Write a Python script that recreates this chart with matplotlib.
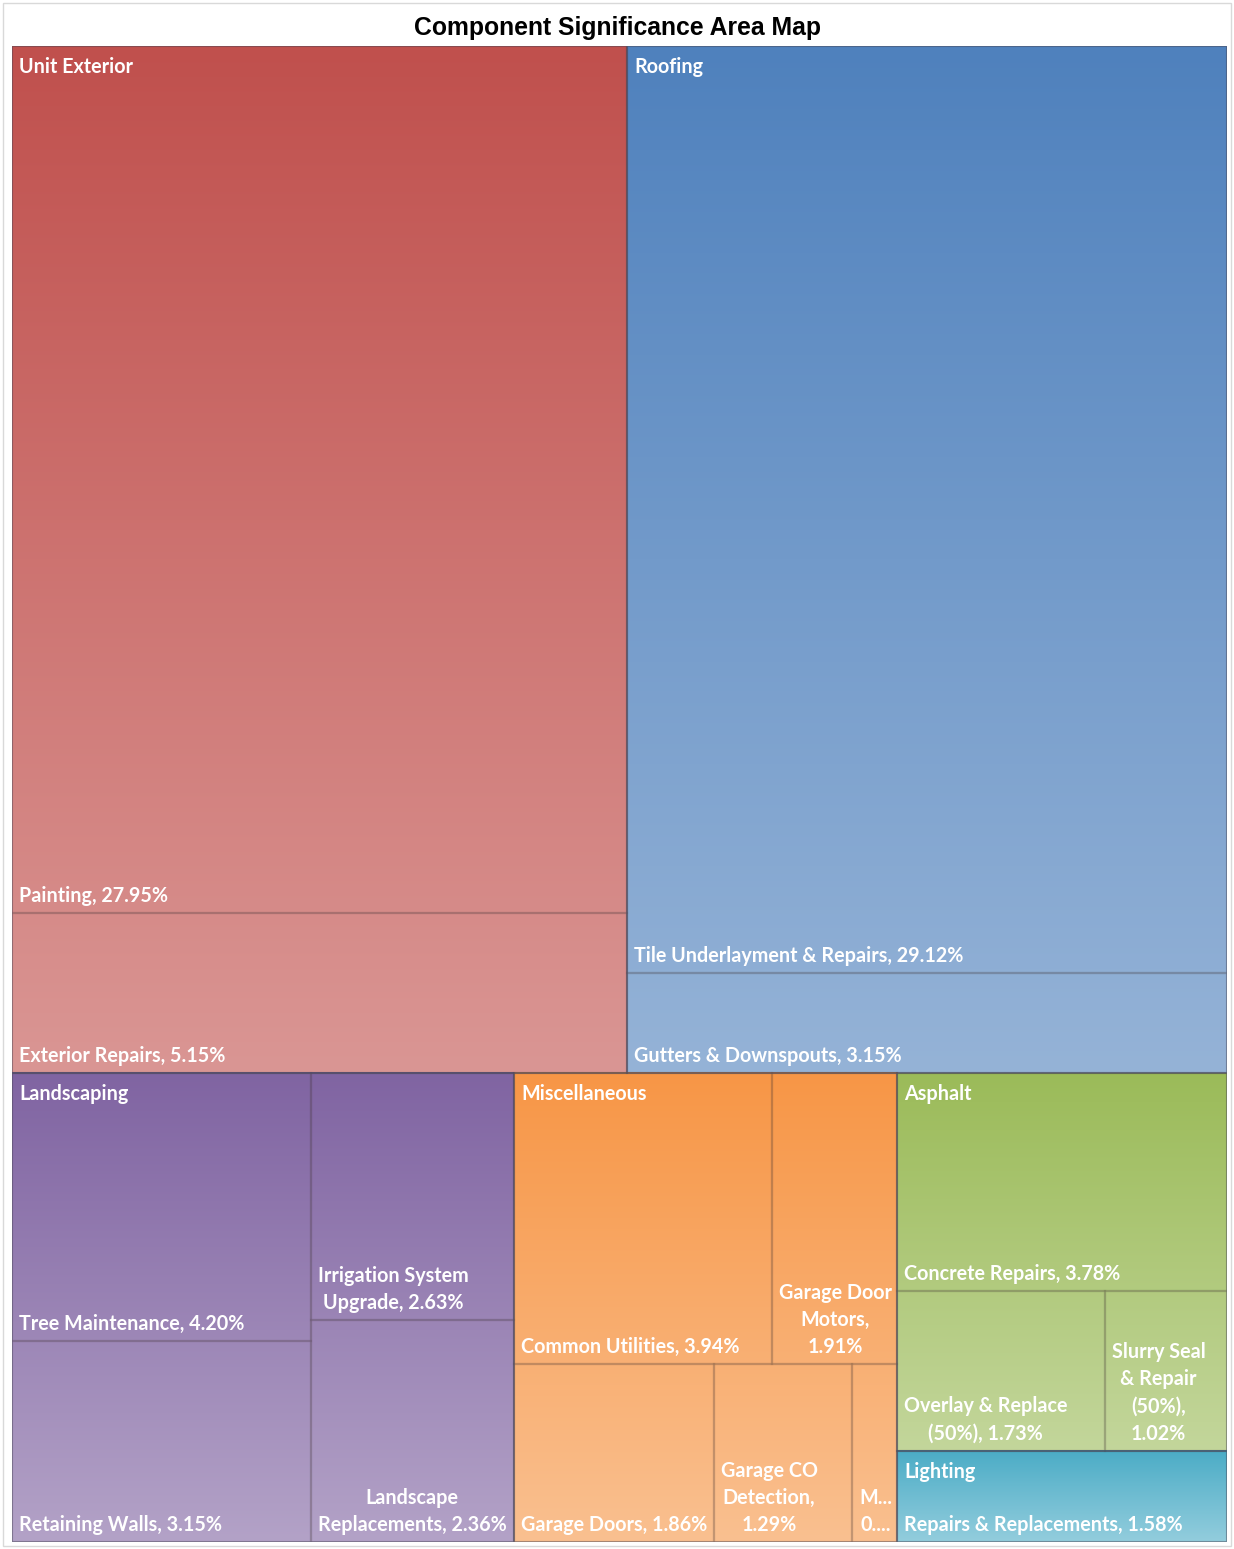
import matplotlib
matplotlib.use("Agg")
import matplotlib.pyplot as plt
import numpy as np
from matplotlib.patches import Rectangle
from matplotlib.colors import to_rgb
from matplotlib.font_manager import FontProperties

# ---------------- data ----------------
title = "Component Significance Area Map"
group_names = ["Unit Exterior", "Roofing", "Landscaping", "Miscellaneous", "Asphalt", "Lighting"]

unit_exterior_items = ["Painting", "Exterior Repairs"]
unit_exterior_values = [27.95, 5.15]
roofing_items = ["Tile Underlayment & Repairs", "Gutters & Downspouts"]
roofing_values = [29.12, 3.15]
landscaping_items = ["Tree Maintenance", "Retaining Walls", "Irrigation System Upgrade", "Landscape Replacements"]
landscaping_values = [4.20, 3.15, 2.63, 2.36]
misc_items = ["Common Utilities", "Garage Door Motors", "Garage Doors", "Garage CO Detection", "Mailboxes"]
misc_values = [3.94, 1.91, 1.86, 1.29, 0.42]
asphalt_items = ["Concrete Repairs", "Overlay & Replace (50%)", "Slurry Seal & Repair (50%)"]
asphalt_values = [3.78, 1.73, 1.02]
lighting_items = ["Repairs & Replacements"]
lighting_values = [1.58]

group_top_colors = ["#C0504D", "#4F81BD", "#8064A2", "#F79646", "#9BBB59", "#4BACC6"]
group_bottom_colors = ["#DA9694", "#95B3D7", "#B3A2C7", "#FAC090", "#C3D69B", "#93CDDD"]

groups = [
    (unit_exterior_items, unit_exterior_values),
    (roofing_items, roofing_values),
    (landscaping_items, landscaping_values),
    (misc_items, misc_values),
    (asphalt_items, asphalt_values),
    (lighting_items, lighting_values),
]

# ---------------- layout ----------------
W_PX, H_PX = 1234, 1549
fig = plt.figure(figsize=(W_PX / 100, H_PX / 100), dpi=100)
ax_l, ax_t, ax_r, ax_b = 12, 46, 1227, 1542
ax = fig.add_axes([ax_l / W_PX, 1 - ax_b / H_PX, (ax_r - ax_l) / W_PX, (ax_b - ax_t) / H_PX])
AW, AH = ax_r - ax_l, ax_b - ax_t
ax.set_xlim(0, AW)
ax.set_ylim(AH, 0)
ax.axis("off")


def avg_ratio(row, short):
    thick = sum(row) / short
    rs = []
    for a in row:
        length = a / thick
        rs.append(max(thick / length, length / thick))
    return sum(rs) / len(rs)


def squarify(values, x, y, w, h):
    total = sum(values)
    scale = w * h / total
    areas = [v * scale for v in values]
    rects = []
    i, n = 0, len(areas)
    while i < n:
        short = min(w, h)
        row = [areas[i]]
        best = avg_ratio(row, short)
        j = i + 1
        while j < n:
            cand = row + [areas[j]]
            r = avg_ratio(cand, short)
            if r <= best:
                row, best = cand, r
                j += 1
            else:
                break
        thick = sum(row) / short
        if w <= h:
            cx = x
            for a in row:
                rw = a / thick
                rects.append((cx, y, rw, thick))
                cx += rw
            y += thick
            h -= thick
        else:
            cy = y
            for a in row:
                rh = a / thick
                rects.append((x, cy, thick, rh))
                cy += rh
            x += thick
            w -= thick
        i = j
    return rects


group_totals = [sum(v) for _, v in groups]
group_rects = squarify(group_totals, 0, 0, AW, AH)

fp = FontProperties(family=["Lato", "DejaVu Sans"], weight="bold", size=14.2)
renderer = fig.canvas.get_renderer()


def tw(s):
    w, h, d = renderer.get_text_width_height_descent(s, fp, ismath=False)
    return w


def wrap(label, avail):
    words = label.split(" ")
    lines, cur = [], ""
    for word in words:
        trial = (cur + " " + word) if cur else word
        if tw(trial) <= avail:
            cur = trial
            continue
        if cur:
            lines.append(cur)
        if tw(word) > avail:
            k = len(word)
            while k > 1 and tw(word[:k] + "...") > avail:
                k -= 1
            word = word[:k] + "..."
        cur = word
    if cur:
        lines.append(cur)
    return "\n".join(lines)


PAD = 7
WRAP_MARGIN = 12
leaf_edge = (0.25, 0.2, 0.2, 0.16)
group_edge = (0.3, 0.3, 0.38, 0.42)
for gi, ((names, vals), (gx, gy, gw, gh)) in enumerate(zip(groups, group_rects)):
    c0 = np.array(to_rgb(group_top_colors[gi]))
    c1 = np.array(to_rgb(group_bottom_colors[gi]))
    t = np.linspace(0, 1, 256)[:, None]
    grad = (c0[None, :] * (1 - t) + c1[None, :] * t)[:, None, :]
    ax.imshow(grad, extent=[gx, gx + gw, gy + gh, gy], aspect="auto", interpolation="bilinear", zorder=1)
    leaf_rects = squarify(vals, gx, gy, gw, gh)
    for name, v, (lx, ly, lw, lh) in zip(names, vals, leaf_rects):
        ax.add_patch(Rectangle((lx, ly), lw, lh, fill=False, edgecolor=leaf_edge, linewidth=1.6, zorder=2))
        label = wrap(f"{name}, {v:.2f}%", lw - WRAP_MARGIN)
        ax.text(lx + PAD, ly + lh - 11, label, color="white", fontproperties=fp,
                ha="left", va="baseline", multialignment="center", linespacing=1.45, zorder=4)
    ax.add_patch(Rectangle((gx, gy), gw, gh, fill=False, edgecolor=group_edge, linewidth=1.3, zorder=3))
    ax.text(gx + PAD, gy + 27, group_names[gi], color="white", fontproperties=fp,
            ha="left", va="baseline", zorder=4)

fig.text(0.5, 1 - 35 / H_PX, title, ha="center", va="baseline",
         fontsize=17.8, fontweight="bold", family=["Liberation Sans", "DejaVu Sans"])

fig.patches.append(Rectangle((3 / W_PX, 3 / H_PX), 1228 / W_PX, 1543 / H_PX, transform=fig.transFigure,
                             fill=False, edgecolor="#D9D9D9", linewidth=1))

fig.savefig("out.png", dpi=100, facecolor="white")
